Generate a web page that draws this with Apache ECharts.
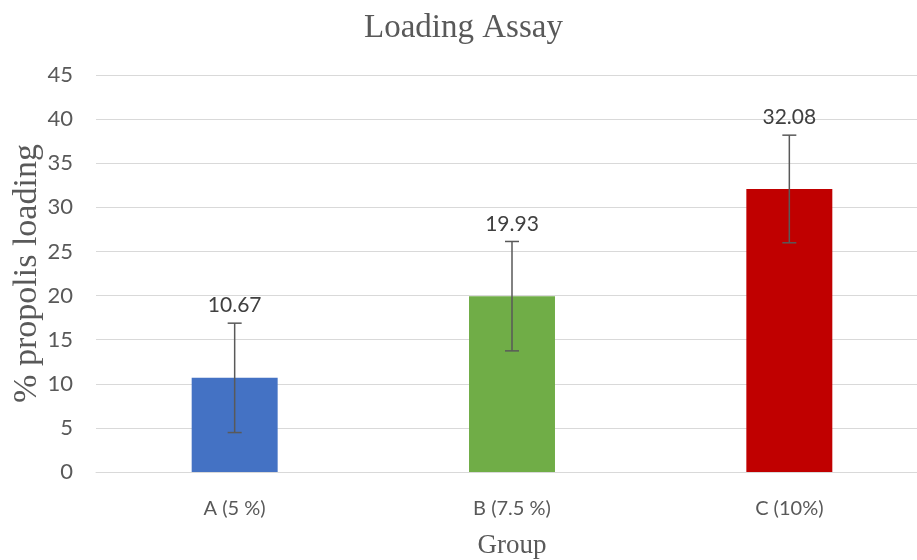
<!DOCTYPE html>
<html>
<head>
<meta charset="utf-8">
<script src="https://cdn.jsdelivr.net/npm/echarts@6/dist/echarts.min.js"></script>
<style>html,body{margin:0;padding:0;background:#fff}#c{width:917px;height:560px}</style>
</head>
<body>
<div id="c"></div>
<script>
const categories = ['A (5 %)', 'B (7.5 %)', 'C (10%)'];
const values = [10.67, 19.93, 32.08];
const errors = [6.2, 6.2, 6.1];
const labels = ['10.67', '19.93', '32.08'];
const colors = ['#4472C4', '#70AD47', '#C00000'];

const chart = echarts.init(document.getElementById('c'));
chart.setOption({
  animation: false,
  backgroundColor: '#ffffff',
  title: {
    text: 'Loading Assay', left: 359, top: 7,
    textStyle: { fontFamily: 'Liberation Serif', fontSize: 33, fontWeight: 'normal', color: '#595959' }
  },
  grid: { left: 96, width: 832, top: 75, bottom: 88, containLabel: false, outerBoundsMode: 'none' },
  xAxis: {
    type: 'category', data: categories,
    name: 'Group', nameLocation: 'middle', nameGap: 60, nameMoveOverlap: false,
    nameTextStyle: { fontFamily: 'Liberation Serif', fontSize: 27, color: '#595959' },
    axisLine: { lineStyle: { color: '#d9d9d9', width: 1 } },
    axisTick: { show: false },
    axisLabel: { margin: 27, fontFamily: 'Lato', fontSize: 20, color: '#595959' }
  },
  yAxis: {
    type: 'value', min: 0, max: 45, interval: 5,
    name: '% propolis loading', nameLocation: 'middle', nameGap: 52, nameMoveOverlap: false,
    nameTextStyle: { fontFamily: 'Liberation Serif', fontSize: 34, color: '#595959' },
    axisLine: { show: false }, axisTick: { show: false },
    splitLine: { lineStyle: { color: '#d9d9d9', width: 1 } },
    axisLabel: { margin: 23, fontFamily: 'Lato', fontSize: 22, color: '#595959' }
  },
  series: [
    {
      type: 'bar', barWidth: '31%',
      data: values.map((v, i) => ({ value: v, itemStyle: { color: colors[i] } }))
    },
    {
      type: 'custom',
      data: values.map((v, i) => [i, v, errors[i]]),
      z: 10,
      renderItem: function (params, api) {
        const i = api.value(0), v = api.value(1), e = api.value(2);
        const top = api.coord([i, v + e]);
        const bot = api.coord([i, v - e]);
        const hw = 7;
        const style = { stroke: '#595959', lineWidth: 1.5 };
        return {
          type: 'group',
          children: [
            { type: 'line', shape: { x1: top[0], y1: top[1], x2: bot[0], y2: bot[1] }, style: style },
            { type: 'line', shape: { x1: top[0] - hw, y1: top[1], x2: top[0] + hw, y2: top[1] }, style: style },
            { type: 'line', shape: { x1: bot[0] - hw, y1: bot[1], x2: bot[0] + hw, y2: bot[1] }, style: style },
            { type: 'text', x: top[0], y: top[1] - 7,
              style: { text: labels[params.dataIndex], textAlign: 'center', textVerticalAlign: 'bottom',
                       font: '21px Lato', fill: '#404040' } }
          ]
        };
      }
    }
  ]
});
</script>
</body>
</html>
